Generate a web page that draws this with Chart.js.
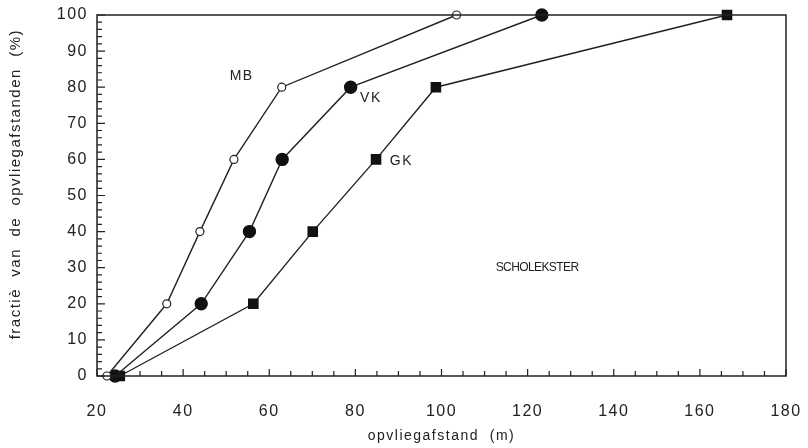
<!DOCTYPE html>
<html>
<head>
<meta charset="utf-8">
<script src="https://cdn.jsdelivr.net/npm/chart.js@4/dist/chart.umd.min.js"></script>
<style>
  body { margin: 0; background: #fff; }
</style>
</head>
<body>
<canvas id="myChart" width="808" height="448"></canvas>
<script>
// cumulative fraction (%) vs flight-initiation distance (m)
const levels = [0, 20, 40, 60, 80, 100];
const mbDist = [22.3, 36.2, 43.9, 51.8, 62.9, 103.5];
const vkDist = [24.2, 44.2, 55.4, 63.0, 78.9, 123.3];
const gkDist = [25.3, 56.3, 70.1, 84.8, 98.7, 166.3];

const seriesNames = ['MB', 'VK', 'GK'];
const xTicks = [20, 40, 60, 80, 100, 120, 140, 160, 180];
const yTicks = [0, 10, 20, 30, 40, 50, 60, 70, 80, 90, 100];

// text placed in the plot (data coords)
const notes = [
  { text: 'MB', x: 53.6, y: 83.2 },
  { text: 'VK', x: 83.6, y: 76.9 },
  { text: 'GK', x: 90.7, y: 59.4 },
  { text: 'SCHOLEKSTER', x: 122.2, y: 30.1, small: true },
];

const ink = '#222';
const font = 'Liberation Sans, Arial, sans-serif';

const toPoints = (xs) => xs.map((x, i) => ({ x: x, y: levels[i] }));

// frame, inward ticks and notes
const frame = {
  id: 'frame',
  beforeLayout(chart) {
    chart.ctx.letterSpacing = '1.5px';
  },
  beforeDraw(chart) {
    chart.ctx.letterSpacing = '1.5px';
  },
  afterDatasetsDraw(chart) {
    const ctx = chart.ctx;
    const a = chart.chartArea;
    const xs = chart.scales.x;
    const ys = chart.scales.y;
    ctx.save();
    ctx.strokeStyle = ink;
    ctx.lineWidth = 1.5;
    ctx.strokeRect(a.left, a.top, a.right - a.left, a.bottom - a.top);

    ctx.lineWidth = 1.2;
    ctx.beginPath();
    for (let v = 0; v <= 100; v += 2) {
      const py = ys.getPixelForValue(v);
      const len = v % 10 === 0 ? 8 : 5;
      ctx.moveTo(a.left, py);
      ctx.lineTo(a.left + len, py);
    }
    for (let v = 20; v <= 180; v += 5) {
      const px = xs.getPixelForValue(v);
      const len = v % 20 === 0 ? 7 : 5;
      ctx.moveTo(px, a.bottom);
      ctx.lineTo(px, a.bottom - len);
    }
    ctx.stroke();

    ctx.fillStyle = ink;
    ctx.textAlign = 'center';
    ctx.textBaseline = 'middle';
    notes.forEach((n) => {
      ctx.font = (n.small ? '12px ' : '14px ') + font;
      ctx.letterSpacing = n.small ? '-0.6px' : '1.5px';
      ctx.fillText(n.text, xs.getPixelForValue(n.x), ys.getPixelForValue(n.y));
    });
    ctx.restore();
  },
};

const ctx = document.getElementById('myChart').getContext('2d');
const myChart = new Chart(ctx, {
  type: 'line',
  data: {
    datasets: [
      {
        label: seriesNames[0],
        data: toPoints(mbDist),
        borderColor: ink,
        borderWidth: 1.4,
        pointStyle: 'circle',
        pointRadius: 4,
        pointBorderWidth: 1.2,
        pointBackgroundColor: '#fff',
        pointBorderColor: ink,
        clip: false,
      },
      {
        label: seriesNames[1],
        data: toPoints(vkDist),
        borderColor: ink,
        borderWidth: 1.4,
        pointStyle: 'circle',
        pointRadius: 6,
        pointBackgroundColor: '#111',
        pointBorderColor: '#111',
        clip: false,
      },
      {
        label: seriesNames[2],
        data: toPoints(gkDist),
        borderColor: ink,
        borderWidth: 1.4,
        pointStyle: 'rect',
        pointRadius: 6.5,
        pointBackgroundColor: '#111',
        pointBorderColor: '#111',
        clip: false,
      },
    ],
  },
  options: {
    responsive: false,
    devicePixelRatio: 1,
    animation: false,
    layout: { padding: { top: 15, right: 22, left: 0, bottom: 0 } },
    plugins: { legend: { display: false }, tooltip: { enabled: false } },
    scales: {
      x: {
        type: 'linear',
        min: 20,
        max: 180,
        grid: { display: false, drawTicks: false },
        border: { display: false },
        afterBuildTicks: (s) => { s.ticks = xTicks.map((v) => ({ value: v })); },
        afterFit: (s) => { s.height = 72; s.paddingLeft = 0; s.paddingRight = 0; },
        ticks: { color: ink, font: { family: font, size: 16 }, padding: 26, maxRotation: 0 },
        title: {
          display: true,
          text: 'opvliegafstand  (m)',
          color: ink,
          font: { family: font, size: 14 },
          padding: { top: 0, bottom: 3 },
        },
      },
      y: {
        min: 0,
        max: 100,
        grid: { display: false, drawTicks: false },
        border: { display: false },
        afterBuildTicks: (s) => { s.ticks = yTicks.map((v) => ({ value: v })); },
        afterFit: (s) => { s.width = 97; s.paddingTop = 0; s.paddingBottom = 0; },
        ticks: { color: ink, font: { family: font, size: 16 }, padding: 9 },
        title: {
          display: true,
          text: '    fractiè  van  de  opvliegafstanden  (%)',
          color: ink,
          font: { family: font, size: 15 },
          padding: { top: 7, bottom: 0 },
        },
      },
    },
  },
  plugins: [frame],
});
</script>
</body>
</html>
